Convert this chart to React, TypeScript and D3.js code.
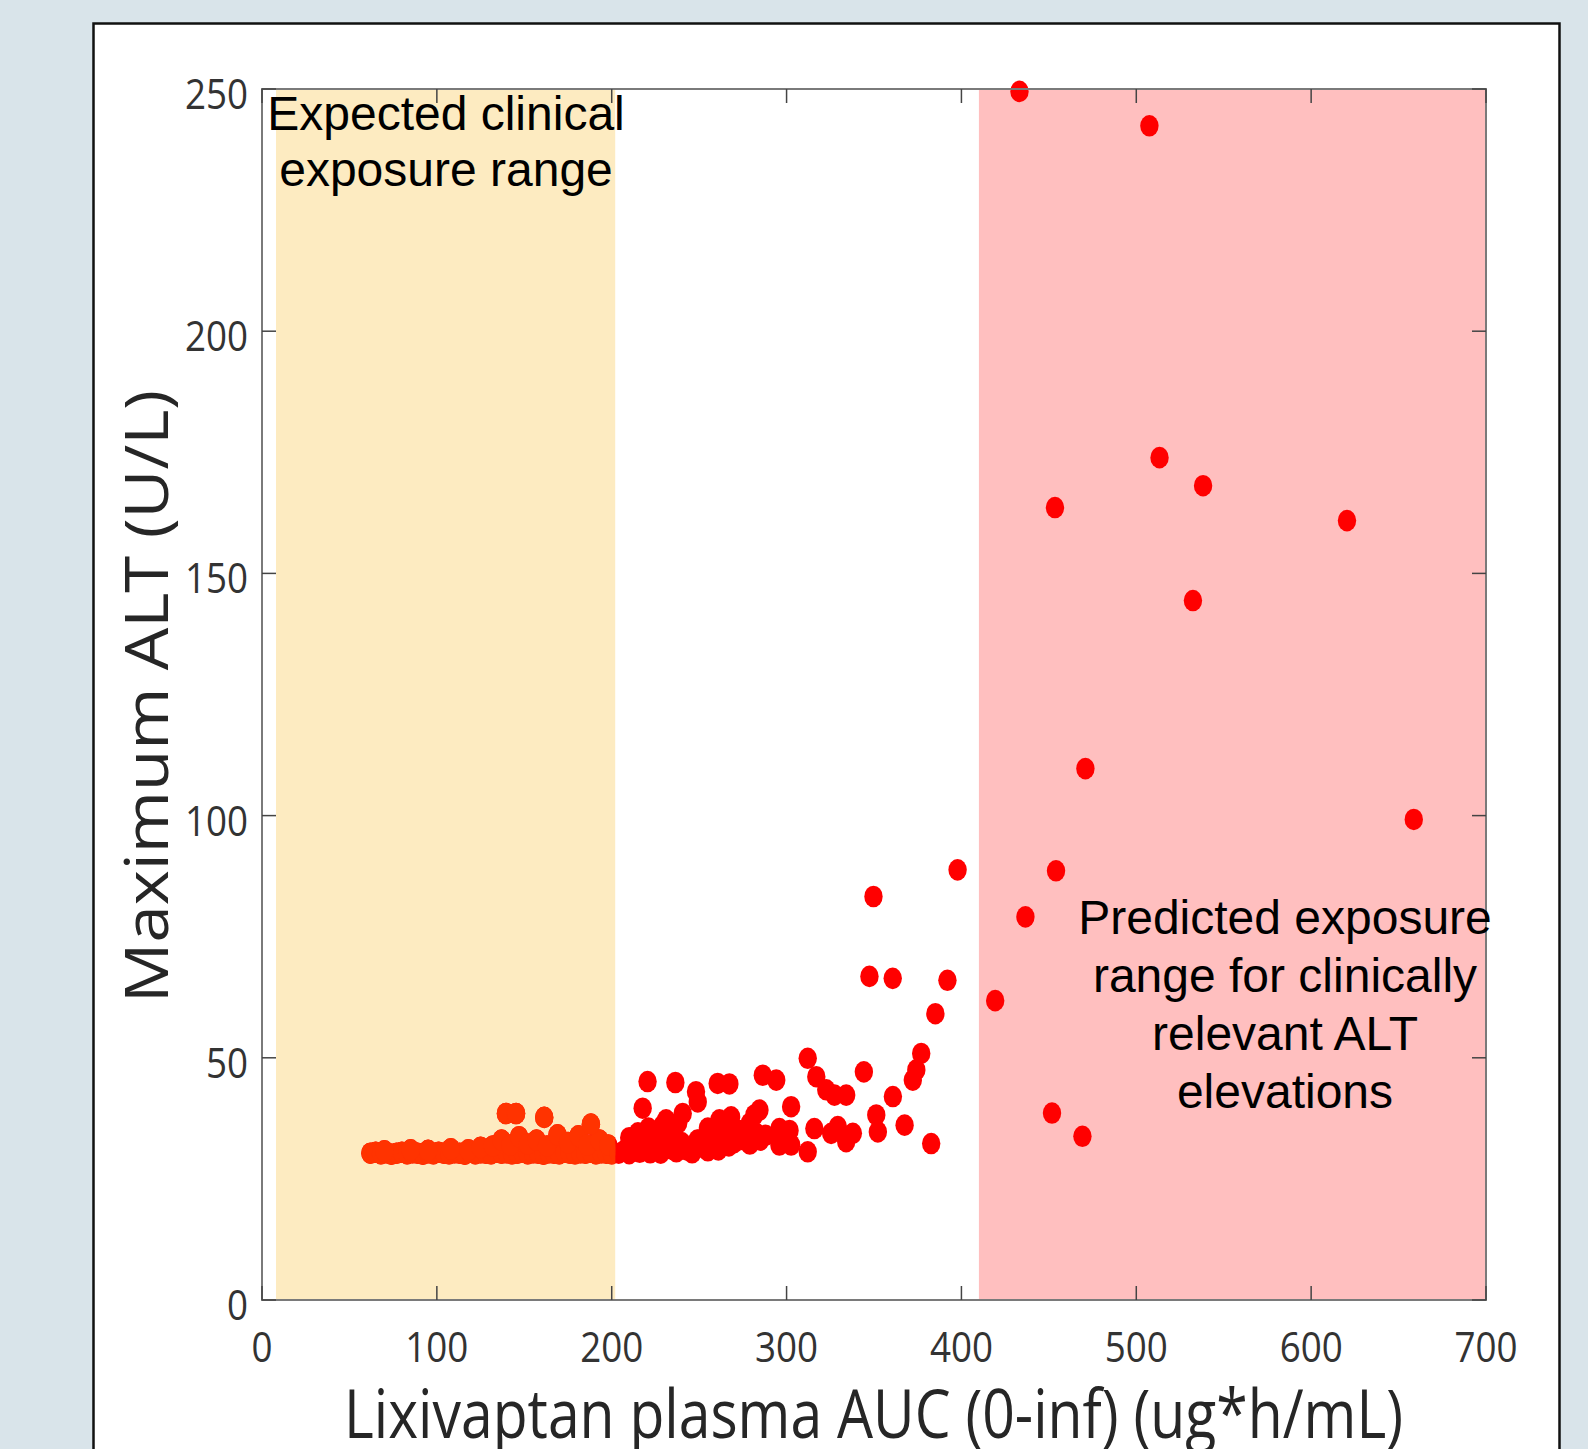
import * as d3 from "d3";

// Lixivaptan AUC (ug*h/mL) vs maximum ALT (U/L)
const aucValues = [
  // floor of the low-exposure band
  62, 65, 68, 71, 74, 77, 80, 83, 86, 89, 92, 95, 98, 101, 104, 107, 110, 113, 116, 119,
  122, 125, 128, 131, 134, 137, 140, 143, 146, 149, 152, 155, 158, 161, 164, 167, 170, 173,
  176, 179, 182, 185, 188, 191, 194, 197, 200,
  // small bumps above the floor
  70, 85, 95, 108, 118, 125, 132, 137, 142, 147, 152, 157, 163, 169, 175, 181, 186, 193, 198,
  139.5, 145.3, 161.4, 188.1,
  // dense cluster just past 200
  204, 207, 210, 213, 216, 219, 222, 225, 228, 231, 234, 237, 240, 243, 246, 249, 252, 255,
  258, 261, 264, 267, 270, 273, 276, 279, 282.6, 285, 288,
  210, 215, 221, 226, 229, 233, 236, 238, 244.4, 250.1, 255, 258, 262, 266, 270, 276, 279,
  217.7, 220.5, 236.4, 260.6, 267.3, 248.2, 249.2, 302.6, 284.5, 281.6, 268.3, 261.6, 240.6,
  231.1, 286.4, 294.1, 312.1, 377, 374.2, 372.2, 344.2, 317, 322.7, 334.1, 327.4, 360.8,
  351.3, 352.2, 367.5, 382.7, 295.9, 301.7, 295.9, 302.6, 312.1, 315.9, 329.3, 325.5, 337.9,
  334.1,
  // scattered high values
  385.1, 419.3, 392, 360.7, 347.4, 436.6, 349.7, 397.8, 454.1, 658.7, 470.9, 532.4, 620.5,
  453.5, 538.2, 513.3, 507.5, 433.2, 451.8, 469.2,
];

const altValues = [
  30.3, 30.5, 30.2, 30.4, 30.1, 30.3, 30.5, 30.2, 30.4, 30.3, 30.1, 30.4, 30.2, 30.5, 30.3,
  30.2, 30.4, 30.3, 30.1, 30.5, 30.2, 30.4, 30.3, 30.2, 30.5, 30.3, 30.4, 30.2, 30.3, 30.5,
  30.2, 30.4, 30.3, 30.1, 30.4, 30.3, 30.2, 30.5, 30.3, 30.2, 30.4, 30.3, 30.5, 30.2, 30.4,
  30.3, 30.2,
  30.8, 31.0, 30.9, 31.2, 31.0, 31.5, 31.8, 33.0, 32.0, 33.7, 32.2, 33.0, 31.8, 34.1, 32.5,
  33.9, 32.0, 33.0, 32.0,
  38.5, 38.5, 37.7, 36.3,
  30.3, 30.8, 30.2, 31.5, 30.5, 32.0, 30.4, 31.8, 30.3, 33.0, 31.2, 30.6, 32.5, 31.0, 30.4,
  33.0, 31.5, 30.8, 32.0, 31.0, 33.5, 31.8, 32.5, 35.0, 33.0, 32.2, 34.4, 33.0, 34.0,
  33.5, 34.5, 35.5, 34.0, 36.0, 35.0, 33.5, 36.5, 31.0, 33.0, 35.5, 34.0, 34.0, 36.0, 33.0,
  35.0, 36.5,
  39.6, 45.1, 44.9, 44.7, 44.6, 43.0, 40.9, 39.9, 39.2, 38.2, 37.8, 37.2, 38.5,
  37.2, 46.4, 45.4, 49.9, 50.9, 47.5, 45.4, 47.1, 46.1, 43.4, 42.3, 42.3, 42.0,
  38.2, 34.7, 36.1, 32.3, 35.4, 35.0, 32.0, 32.0, 30.6, 35.4, 35.8, 34.4, 34.4,
  32.7,
  59.1, 61.8, 66.0, 66.4, 66.8, 79.1, 83.3, 88.8, 88.6, 99.2, 109.7, 144.4, 160.9,
  163.6, 168.1, 173.9, 242.4, 249.5, 38.6, 33.8,
];

const xTicks = [0, 100, 200, 300, 400, 500, 600, 700];
const yTicks = [0, 50, 100, 150, 200, 250];
const expectedRange = [8, 202];
const elevatedRange = [410, 700];
const expectedLabel = ["Expected clinical", "exposure range"];
const elevatedLabel = ["Predicted exposure", "range for clinically", "relevant ALT", "elevations"];

const W = 1588;
const H = 1449;
const plot = { left: 262, right: 1486, top: 89, bottom: 1300 };

export default function App() {
  const x = d3.scaleLinear().domain([0, 700]).range([plot.left, plot.right]);
  const y = d3.scaleLinear().domain([0, 250]).range([plot.bottom, plot.top]);
  const points = aucValues.map((a, i) => ({ a, v: altValues[i] }));
  const tickLen = 14;
  const tickFont = { fontFamily: "'Open Sans', sans-serif", fontSize: 42, fill: "#333" };

  const dots = (color) =>
    points.map((d, i) => (
      <ellipse key={i} cx={x(d.a)} cy={y(d.v)} rx={9.2} ry={10.8} fill={color} />
    ));

  return (
    <div style={{ position: "absolute", left: 0, top: 0 }}>
      <svg width={W} height={H}>
        <defs>
          <clipPath id="expClip">
            <rect
              x={x(expectedRange[0])}
              y={plot.top}
              width={x(expectedRange[1]) - x(expectedRange[0])}
              height={plot.bottom - plot.top}
            />
          </clipPath>
        </defs>
        <rect width={W} height={H} fill="#d9e4ea" />
        <rect x={93.5} y={23.5} width={1466} height={H} fill="#fff" stroke="#111" strokeWidth={2.5} />

        <rect
          x={x(expectedRange[0])}
          y={plot.top}
          width={x(expectedRange[1]) - x(expectedRange[0])}
          height={plot.bottom - plot.top}
          fill="#fdebc1"
        />
        <rect
          x={x(elevatedRange[0])}
          y={plot.top}
          width={x(elevatedRange[1]) - x(elevatedRange[0])}
          height={plot.bottom - plot.top}
          fill="#ffbfbf"
        />

        <g>{dots("#ff0000")}</g>
        <g clipPath="url(#expClip)">{dots("#ff3300")}</g>

        {/* box and inward ticks on all four sides */}
        <rect
          x={plot.left}
          y={plot.top}
          width={plot.right - plot.left}
          height={plot.bottom - plot.top}
          fill="none"
          stroke="#7a7a7a"
          strokeWidth={2}
        />
        {xTicks.map((t) => (
          <g key={`x${t}`}>
            <line x1={x(t)} x2={x(t)} y1={plot.bottom} y2={plot.bottom - tickLen} stroke="#444" strokeWidth={1.5} />
            <line x1={x(t)} x2={x(t)} y1={plot.top} y2={plot.top + tickLen} stroke="#444" strokeWidth={1.5} />
            <text
              transform={`translate(${x(t)},1362) scale(0.875,1)`}
              textAnchor="middle"
              {...tickFont}
            >
              {t}
            </text>
          </g>
        ))}
        {yTicks.map((t) => (
          <g key={`y${t}`}>
            <line x1={plot.left} x2={plot.left + tickLen} y1={y(t)} y2={y(t)} stroke="#444" strokeWidth={1.5} />
            <line x1={plot.right} x2={plot.right - tickLen} y1={y(t)} y2={y(t)} stroke="#444" strokeWidth={1.5} />
            <text
              transform={`translate(248,${y(t) + 20}) scale(0.875,1)`}
              textAnchor="end"
              {...tickFont}
            >
              {t}
            </text>
          </g>
        ))}

        <text
          x={344}
          y={1438}
          textLength={1059}
          lengthAdjust="spacingAndGlyphs"
          fontFamily="'Open Sans', sans-serif"
          fontSize={68}
          fill="#262626"
        >
          Lixivaptan plasma AUC (0-inf) (ug*h/mL)
        </text>
        <text
          transform="translate(168,1003) rotate(-90)"
          textLength={613}
          lengthAdjust="spacingAndGlyphs"
          fontFamily="'Open Sans', sans-serif"
          fontSize={60}
          fill="#262626"
        >
          Maximum ALT (U/L)
        </text>

        {expectedLabel.map((s, i) => (
          <text
            key={s}
            x={446}
            y={130 + i * 56}
            textAnchor="middle"
            fontFamily="'Liberation Sans', Arial, sans-serif"
            fontSize={48}
            fill="#000"
          >
            {s}
          </text>
        ))}
        {elevatedLabel.map((s, i) => (
          <text
            key={s}
            x={1285}
            y={934 + i * 58}
            textAnchor="middle"
            fontFamily="'Liberation Sans', Arial, sans-serif"
            fontSize={48}
            fill="#000"
          >
            {s}
          </text>
        ))}
      </svg>
    </div>
  );
}
